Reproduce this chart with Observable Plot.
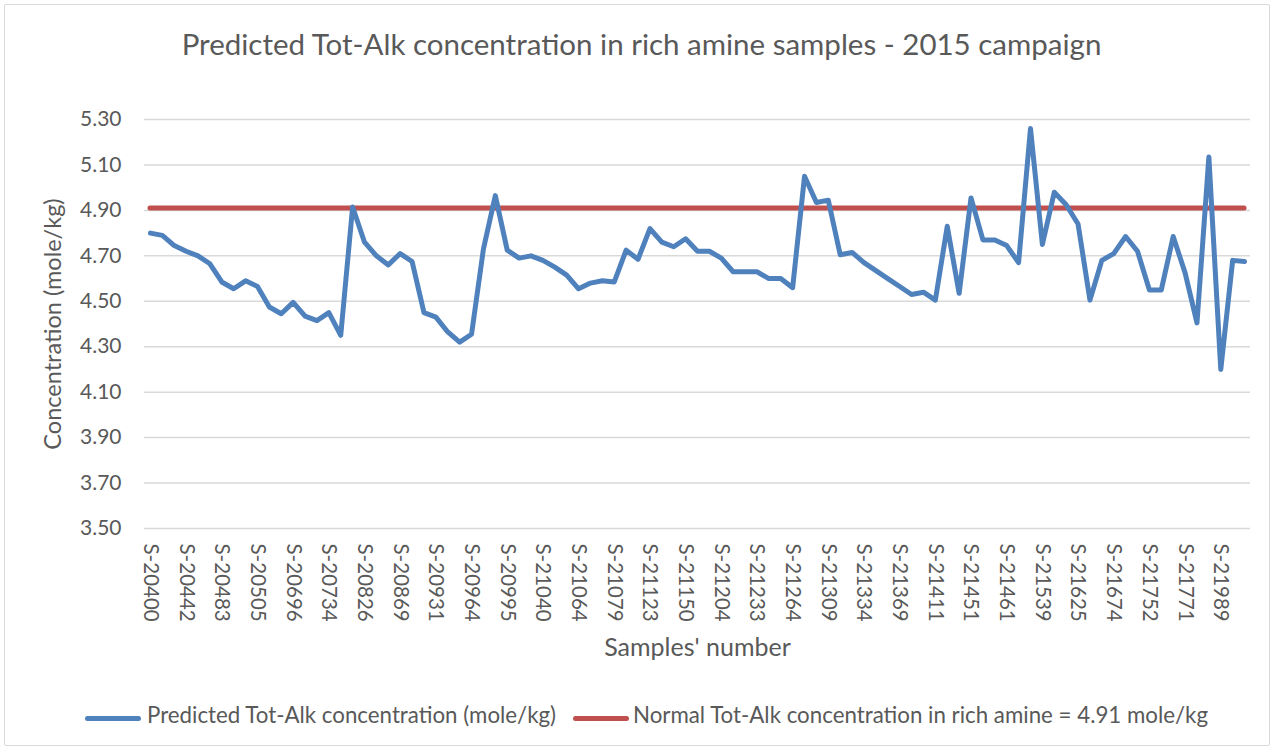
<!DOCTYPE html>
<html>
<head>
<meta charset="utf-8">
<script src="https://cdn.jsdelivr.net/npm/d3@7"></script>
<script src="https://cdn.jsdelivr.net/npm/@observablehq/plot@0.6"></script>
<style>
  body { margin: 0; background: #fff; font-family: Lato, "Open Sans", sans-serif; color: #595959; }
  #wrap { position: relative; width: 1277px; height: 753px; overflow: hidden; background: #fff; }
  #border { position: absolute; left: 4px; top: 4px; width: 1266px; height: 742px; border: 1.5px solid #D9D9D9; border-radius: 2px; box-sizing: border-box; }
  #title { position: absolute; left: 3px; width: 1277px; top: 26px; text-align: center; font-size: 29.5px; line-height: 1.2; white-space: nowrap; }
  #chart { position: absolute; left: 0; top: 90px; }
  .lg-line { position: absolute; height: 5px; border-radius: 3px; top: 716px; }
  .lg-text { position: absolute; top: 702px; font-size: 22.3px; line-height: 1.2; white-space: nowrap; }
</style>
</head>
<body>
<div id="wrap">
  <div id="border"></div>
  <div id="title"></div>
  <div id="chart"></div>
  <div id="legend"></div>
</div>
<script>
const chartTitle = "Predicted Tot-Alk concentration in rich amine samples - 2015 campaign";
const xTitle = "Samples' number";
const yTitle = "Concentration (mole/kg)";
const seriesName = "Predicted Tot-Alk concentration (mole/kg)";
const normalName = "Normal Tot-Alk concentration in rich amine = 4.91 mole/kg";
const normalValue = 4.91;

// tick labels shown under every third sample
const sampleLabels = ["S-20400","S-20442","S-20483","S-20505","S-20696","S-20734","S-20826","S-20869",
  "S-20931","S-20964","S-20995","S-21040","S-21064","S-21079","S-21123","S-21150","S-21204","S-21233",
  "S-21264","S-21309","S-21334","S-21369","S-21411","S-21451","S-21461","S-21539","S-21625","S-21674",
  "S-21752","S-21771","S-21989"];
const labelEvery = 3;

const concentration = [
  4.80, 4.79, 4.745, 4.72, 4.70, 4.665, 4.585, 4.555, 4.59, 4.565,
  4.475, 4.445, 4.495, 4.435, 4.415, 4.45, 4.35, 4.915, 4.76, 4.70,
  4.66, 4.71, 4.675, 4.45, 4.43, 4.365, 4.32, 4.355, 4.73, 4.965,
  4.725, 4.69, 4.70, 4.68, 4.65, 4.615, 4.555, 4.58, 4.59, 4.585,
  4.725, 4.685, 4.82, 4.76, 4.74, 4.775, 4.72, 4.72, 4.69, 4.63,
  4.63, 4.63, 4.60, 4.60, 4.56, 5.05, 4.935, 4.945, 4.705, 4.715,
  4.67, 4.635, 4.60, 4.565, 4.53, 4.54, 4.505, 4.83, 4.535, 4.955,
  4.77, 4.77, 4.745, 4.67, 5.26, 4.75, 4.98, 4.925, 4.84, 4.505,
  4.68, 4.71, 4.785, 4.72, 4.55, 4.55, 4.785, 4.625, 4.405, 5.135,
  4.20, 4.68, 4.675
];

const yTicks = [3.5, 3.7, 3.9, 4.1, 4.3, 4.5, 4.7, 4.9, 5.1, 5.3];

const blue = "#4F81BD", red = "#C0504D", textColor = "#595959";

document.getElementById("title").textContent = chartTitle;

const n = concentration.length;
const chart = Plot.plot({
  width: 1277,
  height: 590,
  marginTop: 29,
  marginBottom: 152,
  marginLeft: 144,
  marginRight: 27,
  x: { type: "linear", domain: [-0.5, n - 0.5], axis: null },
  y: { domain: [3.5, 5.3], axis: null },
  style: { fontFamily: "Lato, 'Open Sans', sans-serif", color: textColor, background: "transparent", overflow: "visible" },
  marks: [
    Plot.gridY(yTicks, { stroke: "#D9D9D9", strokeOpacity: 1, strokeWidth: 1.5 }),
    Plot.axisY(yTicks, { tickSize: 0, tickPadding: 23, tickFormat: d => d.toFixed(2), fontSize: 21, fill: textColor, label: null }),
    Plot.text(sampleLabels, { x: (d, i) => i * labelEvery, text: d => d, frameAnchor: "bottom", rotate: 90,
      textAnchor: "start", lineAnchor: "middle", dy: 15, fontSize: 20.5, fill: textColor }),
    Plot.text([xTitle], { text: d => d, frameAnchor: "bottom", textAnchor: "middle", lineAnchor: "bottom", dy: 127, fontSize: 25, fill: textColor }),
    Plot.text([yTitle], { text: d => d, frameAnchor: "left", rotate: -90, textAnchor: "middle", lineAnchor: "middle", dx: -91, fontSize: 23.5, fill: textColor }),
    Plot.ruleY([normalValue], { x1: 0, x2: n - 1, stroke: red, strokeWidth: 5, strokeLinecap: "round" }),
    Plot.line(concentration, { x: (d, i) => i, y: d => d, stroke: blue, strokeWidth: 5, strokeLinejoin: "round", strokeLinecap: "round" })
  ]
});
document.getElementById("chart").appendChild(chart);

// legend
const legend = document.getElementById("legend");
const items = [
  { name: seriesName, color: blue, lineLeft: 85, textLeft: 147 },
  { name: normalName, color: red, lineLeft: 573, textLeft: 633 }
];
for (const it of items) {
  const l = document.createElement("div");
  l.className = "lg-line";
  l.style.left = it.lineLeft + "px";
  l.style.width = "56px";
  l.style.background = it.color;
  legend.appendChild(l);
  const t = document.createElement("div");
  t.className = "lg-text";
  t.style.left = it.textLeft + "px";
  t.textContent = it.name;
  legend.appendChild(t);
}
</script>
</body>
</html>
